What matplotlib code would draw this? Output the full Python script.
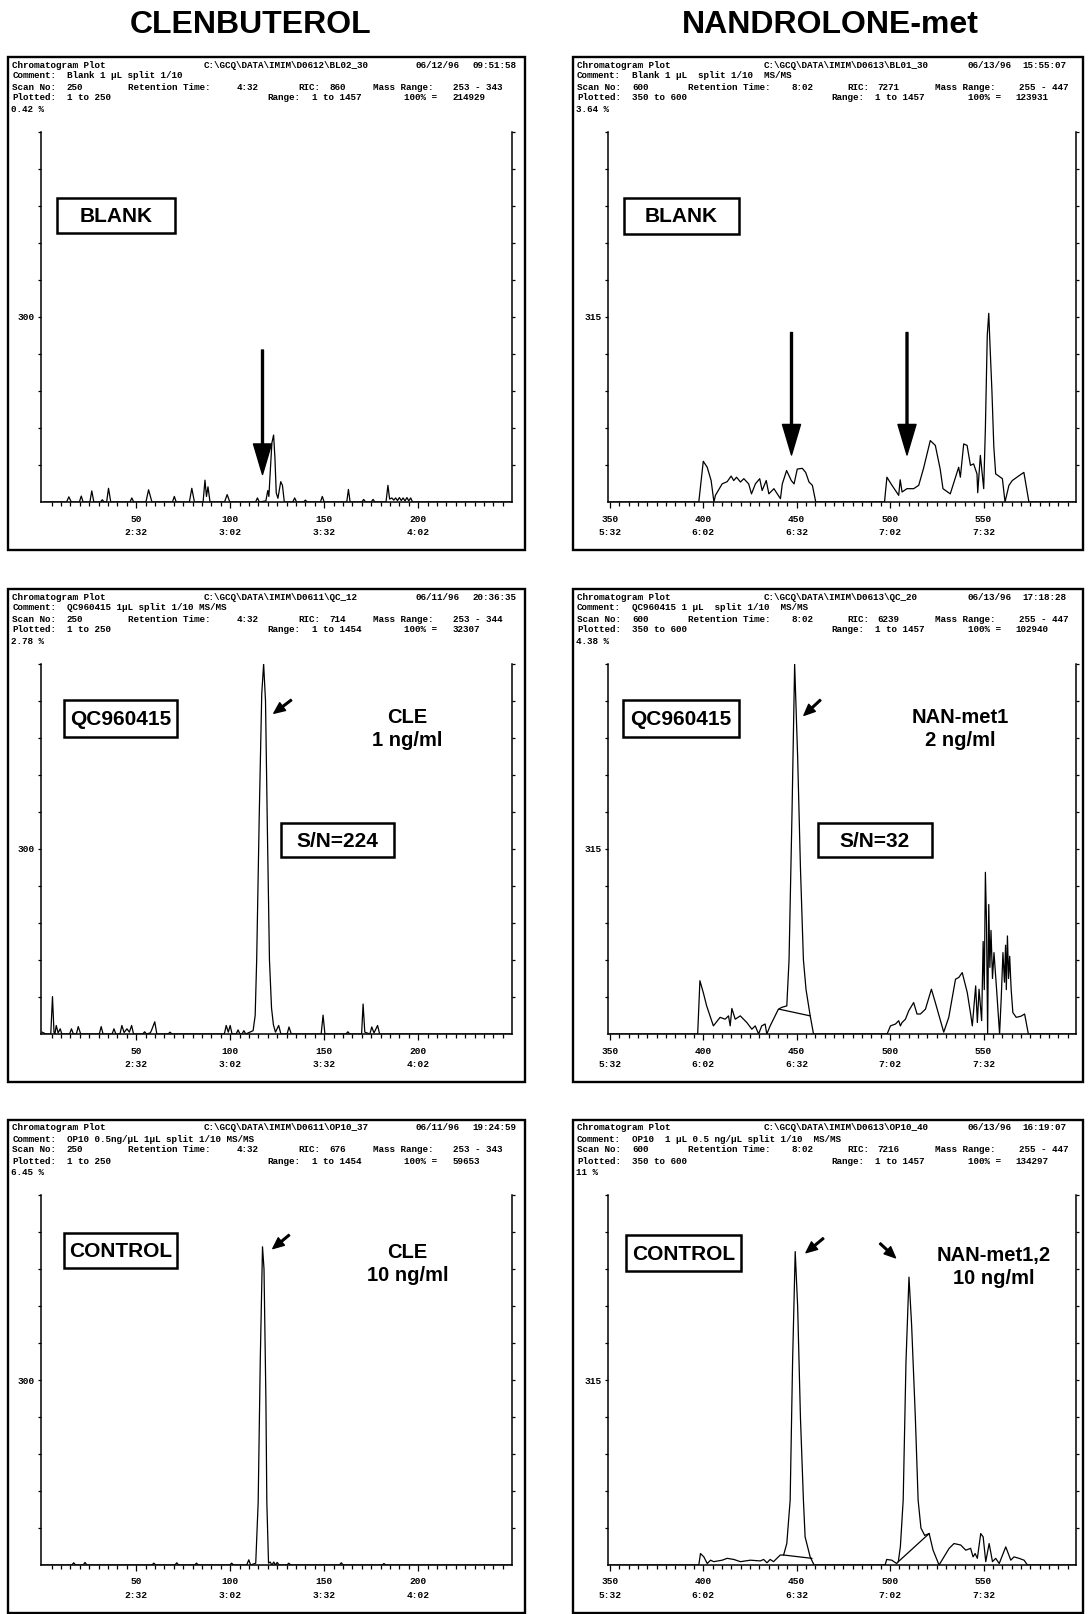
"""
Six GC-MS/MS chromatogram panels: clenbuterol (left) and nandrolone metabolite (right),
blank / QC / control rows. Traces are read off the scanned figure (intensity in % of full scale).
"""
import numpy as np
import matplotlib
matplotlib.use("Agg")
import matplotlib.pyplot as plt
from matplotlib.patches import Rectangle

W, H = 1088, 1614
MONO = ["Liberation Mono", "DejaVu Sans Mono"]
SANS = ["Liberation Sans", "DejaVu Sans"]
plt.rcParams["font.family"] = MONO
plt.rcParams["font.weight"] = "bold"

# ---- traces: (scan, % of full scale) ----
CLE_BLANK = [(1, 0), (13, 0), (14.2, 1.4), (15.5, 0), (19.8, 0), (20.8, 1.6), (21.8, 0), (25.4, 0), (26.4, 3.0),
             (27.5, 0), (31, 0), (32, 0.6), (33, 0), (34.3, 0), (35.3, 3.7), (36.5, 0), (46.7, 0), (47.7, 1.1),
             (48.7, 0), (55.2, 0), (56.6, 3.3), (58.4, 0), (69.3, 0), (70.3, 1.5), (71.3, 0), (78.3, 0),
             (79.6, 3.7), (81, 0), (85.6, 0), (86.6, 5.9), (87.4, 1.5), (88.2, 4.1), (89.3, 0), (97, 0),
             (98.4, 2.0), (99.8, 0), (113.5, 0), (114.5, 1.1), (115.5, 0), (119, 0.3), (120, 3.1), (120.6, 1.5),
             (121.3, 8), (122.2, 16), (123.1, 18.1), (123.8, 12), (124.5, 2.5), (125.4, 1.0), (126.9, 5.5),
             (127.8, 4.5), (128.8, 0), (133.3, 0), (134.3, 1.1), (135.3, 0), (139, 0), (140, 0.5), (141, 0),
             (148, 0), (149, 1.5), (150, 0), (162, 0), (162.9, 3.4), (163.8, 0), (170, 0), (171, 0.7), (172, 0),
             (175, 0), (176, 0.7), (177, 0), (182.9, 0), (183.9, 4.5), (184.8, 0.8), (186, 1.1), (187, 0.5),
             (188, 1.1), (189, 0.4), (190, 1.2), (191, 0.4), (192, 1.1), (193, 0.3), (194, 1.2), (195, 0.3),
             (196, 1.1), (197, 0), (250, 0)]
NAN_BLANK = [(350, 0), (397.6, 0), (400, 11.0), (402.1, 9.4), (404.2, 5.8), (405.7, 0), (406.5, 1.8), (410.1, 4.9),
             (412.8, 5.5), (414.9, 7.0), (416.3, 5.8), (417.8, 6.7), (419.9, 5.4), (421.7, 6.3), (424.3, 4.9),
             (425.8, 2.2), (427.9, 4.9), (430.2, 6.3), (431.5, 3.1), (433.7, 5.8), (435.1, 2.2), (437.8, 3.6),
             (441.3, 0.9), (442.3, 4.9), (444.6, 8.5), (447.1, 5.8), (448.6, 4.9), (450.3, 8.9), (453.0, 9.1),
             (454.8, 8.0), (456.6, 5.4), (458.4, 4.5), (460.2, 0), (497.0, 0), (498.3, 6.7), (500.5, 4.9),
             (504.6, 1.8), (505.4, 6.0), (506.4, 2.7), (509.0, 3.6), (512.6, 3.6), (515.3, 4.5), (517.9, 9.1),
             (521.5, 16.6), (524.2, 15.3), (526.8, 8.9), (528.3, 3.6), (532.2, 2.2), (536.7, 9.4), (537.6, 6.7),
             (539.4, 15.7), (541.2, 15.3), (543.0, 9.9), (544.7, 10.3), (546.5, 7.6), (546.9, 2.5), (548.3, 12.6),
             (550.1, 3.6), (551, 20), (552, 45), (552.8, 51), (553.5, 42), (554.5, 30), (555.5, 15), (556.5, 7.6),
             (560.1, 6.3), (561.5, 0), (563.6, 4.5), (565.4, 5.8), (569.0, 7.1), (571.6, 8.0), (574.3, 0), (600, 0)]
CLE_QC = [(0, 0.5), (2, 0), (4.6, 0), (5.5, 10.1), (6.3, 0.5), (6.8, 0), (7.5, 2.3), (8.5, 0.3), (9.6, 1.4),
          (10.5, 0), (14.6, 0), (15.6, 1.4), (16.6, 0), (18.2, 0), (19.2, 2.0), (20.5, 0), (30.4, 0), (31.4, 2.0),
          (32.4, 0), (37.2, 0), (38.2, 1.4), (39.2, 0), (41.4, 0), (42.4, 2.3), (43.6, 0.4), (45.1, 1.4),
          (46.4, 0.5), (47.6, 2.3), (48.6, 0), (53.5, 0), (54.5, 0.6), (55.5, 0), (57.5, 0.3), (58.1, 0.9),
          (59.9, 3.3), (61, 0), (67, 0), (68, 0.5), (69, 0), (96.9, 0), (97.9, 2.3), (99, 0.5), (100, 2.3),
          (101, 0), (103.2, 0), (104.2, 1.1), (105.2, 0), (106.3, 0), (107.3, 0.9), (108.3, 0), (112.2, 0.9),
          (113.3, 5), (114.1, 20), (115.5, 60), (116.8, 92), (117.8, 100), (118.8, 90), (119.8, 55), (120.9, 20),
          (122, 7), (123, 2.5), (124.1, 0.5), (125.8, 2.3), (127, 0), (130.3, 0), (131.3, 1.9), (132.5, 0),
          (148.4, 0), (149.4, 5.1), (150.4, 0), (161.6, 0), (162.6, 0.6), (163.6, 0), (169.9, 0), (170.7, 8.1),
          (171.6, 0.5), (174.3, 0), (175.3, 1.9), (176.5, 0.3), (178.4, 2.3), (179.5, 0), (250, 0)]
NAN_QC = [(350, 0), (397.0, 0), (398.2, 14.4), (400.0, 11.2), (401.8, 7.6), (405.4, 2.2), (409.0, 4.5),
          (411.7, 4.0), (413.5, 4.9), (414.4, 2.2), (415.3, 6.9), (417.1, 4.0), (419.8, 4.9), (423.3, 3.1),
          (426.0, 1.3), (427.8, 2.2), (429.6, 0), (431.3, 2.2), (433.1, 2.7), (434.0, 0), (435.8, 2.2),
          (440.2, 6.7), (442.0, 7.2), (444.7, 7.6), (445.9, 20), (447.5, 60), (448.9, 100), (450.5, 75),
          (452, 45), (453.6, 20), (455, 12), (457.2, 5), (459, 0), (498.4, 0), (500.2, 2.2), (502.9, 2.7),
          (504.6, 3.6), (505.5, 2.2), (506.4, 3.1), (508.2, 4.0), (510.0, 6.3), (512.6, 8.5), (514.4, 5.4),
          (516.2, 5.4), (518.9, 6.7), (522.1, 12.1), (524.2, 8.5), (528.7, 0.5), (531.4, 4.5), (535.0, 14.8),
          (536.8, 15.3), (538.6, 16.6), (541.3, 11.2), (543.1, 5.4), (544.0, 2.2), (545.8, 13.0), (546.7, 3.1),
          (547.6, 12.1), (549.0, 3.6), (549.8, 25), (550.4, 12), (551.0, 43.7), (551.6, 30), (552.2, 0),
          (552.8, 35), (553.4, 18), (554.0, 28), (554.8, 15), (555.6, 22), (557.0, 12), (558.6, 0), (559.5, 10),
          (560.4, 22), (561.2, 14), (561.8, 24), (562.2, 12), (562.8, 26.5), (563.4, 15), (564.0, 21),
          (564.8, 12), (565.7, 5.8), (567.5, 4.5), (570, 4.8), (572, 5.4), (574, 0), (600, 0)]
CLE_CONTROL = [(0, 0), (15.8, 0), (16.8, 0.6), (17.8, 0), (21.8, 0), (22.8, 0.7), (23.8, 0), (58.4, 0), (59.4, 0.5),
               (60.4, 0), (70.6, 0), (71.6, 0.6), (72.6, 0), (81.1, 0), (82.1, 0.5), (83.1, 0), (99.8, 0),
               (100.8, 0.5), (101.8, 0), (108.8, 0), (109.9, 1.4), (110.9, 0), (113.6, 0.5), (114.9, 17),
               (116, 55), (117.2, 86), (118, 80), (119, 45), (119.5, 17), (120.4, 0.5), (121.3, 0.8), (122.2, 0),
               (123.2, 0.8), (124.1, 0), (125, 0.7), (126, 0), (130.2, 0), (131.2, 0.5), (132.2, 0), (158.1, 0),
               (159.1, 0.6), (160.1, 0), (180.8, 0), (181.8, 0.4), (182.8, 0), (250, 0)]
NAN_CONTROL = [(350, 0), (397.6, 0), (398.5, 3.1), (400.3, 2.2), (402.1, 0.4), (403.9, 1.3), (405.6, 0.9),
               (410.1, 1.3), (412.8, 1.8), (416.3, 1.5), (419.9, 0.9), (425.2, 1.3), (430.5, 1.1), (432.3, 1.5),
               (434.1, 0.6), (435.8, 1.5), (437.6, 0.9), (441.2, 2.7), (443.0, 2.7), (444.7, 5.8), (446.5, 17.5),
               (447.8, 55), (449.2, 84.7), (450.5, 70), (452, 40), (453.6, 17.5), (454.5, 7.6), (457.2, 2.2),
               (459.3, 0), (497.3, 0), (498.2, 1.5), (500.9, 1.3), (503.5, 0.4), (504.4, 0.9), (505.5, 5),
               (507, 17.5), (508.5, 55), (510.1, 77.8), (511.5, 65), (513.5, 40), (515, 17.5), (516.5, 10),
               (518.5, 8), (520.9, 8.5), (523, 4), (526.2, 0), (531.6, 4.5), (534.2, 5.8), (537.8, 5.4),
               (540.5, 4.0), (543.1, 4.5), (544.4, 2.2), (545.5, 3.1), (546.7, 1.8), (548.5, 8.5), (549.8, 7.6),
               (551.2, 0.9), (553.0, 5.8), (554.8, 0.9), (556.5, 1.8), (558.4, 0.4), (561.9, 4.9), (564.6, 1.3),
               (566.3, 2.2), (569.0, 1.8), (571.7, 1.3), (573.5, 0), (600, 0)]
# integration baselines drawn under the peaks
NAN_QC_BASE = [[(440.7, 6.7), (457.2, 4.9)]]
NAN_CONTROL_BASE = [[(443.0, 2.7), (458.1, 1.8)], [(504.4, 0.9), (520.9, 8.5)]]

TRACES = [CLE_BLANK, NAN_BLANK, CLE_QC, NAN_QC, CLE_CONTROL, NAN_CONTROL]
BASES = [[], [], [], NAN_QC_BASE, [], NAN_CONTROL_BASE]

# ---- header block of each panel (row-major: blank L/R, QC L/R, control L/R) ----
PATHS = ["C:\\GCQ\\DATA\\IMIM\\D0612\\BL02_30", "C:\\GCQ\\DATA\\IMIM\\D0613\\BL01_30",
         "C:\\GCQ\\DATA\\IMIM\\D0611\\QC_12", "C:\\GCQ\\DATA\\IMIM\\D0613\\QC_20",
         "C:\\GCQ\\DATA\\IMIM\\D0611\\OP10_37", "C:\\GCQ\\DATA\\IMIM\\D0613\\OP10_40"]
DATES = ["06/12/96", "06/13/96", "06/11/96", "06/13/96", "06/11/96", "06/13/96"]
TIMES = ["09:51:58", "15:55:07", "20:36:35", "17:18:28", "19:24:59", "16:19:07"]
COMMENTS = ["Blank 1 µL split 1/10", "Blank 1 µL  split 1/10  MS/MS", "QC960415 1µL split 1/10 MS/MS",
            "QC960415 1 µL  split 1/10  MS/MS", "OP10 0.5ng/µL 1µL split 1/10 MS/MS",
            "OP10  1 µL 0.5 ng/µL split 1/10  MS/MS"]
SCAN_NO = ["250", "600", "250", "600", "250", "600"]
RET_TIME = ["4:32", "8:02", "4:32", "8:02", "4:32", "8:02"]
RIC = ["860", "7271", "714", "6239", "676", "7216"]
MASS = ["253 - 343", "255 - 447", "253 - 344", "255 - 447", "253 - 343", "255 - 447"]
PLOTTED = ["1 to 250", "350 to 600"] * 3
RANGES = ["1 to 1457", "1 to 1457", "1 to 1454", "1 to 1457", "1 to 1454", "1 to 1457"]
FULL = ["214929", "123931", "32307", "102940", "59653", "134297"]
PCT = ["0.42 %", "3.64 %", "2.78 %", "4.38 %", "6.45 %", "11 %"]

XTICKS = [[50, 100, 150, 200], [350, 400, 450, 500, 550]]
XTIMES = [["2:32", "3:02", "3:32", "4:02"], ["5:32", "6:02", "6:32", "7:02", "7:32"]]
XLIMS = [(-0.5, 250), (349, 599.5)]
XMINOR = [np.arange(5, 250, 5), np.arange(355, 600, 5)]
YLABEL = ["300", "315"]
TITLES = ["CLENBUTEROL", "NANDROLONE-met"]

# ---- layout (pixels of the 1088x1614 figure) ----
ROW_TOP = [57, 589, 1120]
COL_LEFT = [8.2, 573]
COL_W = [517, 510]
BOX_H = 493
PLOT_L = [33, 35]
PLOT_R = [504, 503]
PLOT_T, PLOT_B = 75, 445

fig = plt.figure(figsize=(W / 100, H / 100), dpi=100, facecolor="white")

for i, trace in enumerate(TRACES):
    r, c = divmod(i, 2)
    top, left = ROW_TOP[r], COL_LEFT[c]
    x0, x1 = left + PLOT_L[c], left + PLOT_R[c]
    y0, y1 = top + PLOT_T, top + PLOT_B
    ax = fig.add_axes([x0 / W, 1 - y1 / H, (x1 - x0) / W, (y1 - y0) / H])
    arr = np.array(trace)
    ax.plot(arr[:, 0], arr[:, 1], color="black", lw=0.9)
    for seg in BASES[i]:
        s = np.array(seg)
        ax.plot(s[:, 0], s[:, 1], color="black", lw=0.9)
    ax.set_xlim(*XLIMS[c])
    ax.set_ylim(0, 100)
    ax.spines["top"].set_visible(False)
    for s in ("left", "bottom", "right"):
        ax.spines[s].set_linewidth(1.1)
    ax.set_xticks(XTICKS[c])
    ax.set_xticklabels(["%d\n%s" % (v, t) for v, t in zip(XTICKS[c], XTIMES[c])], fontsize=6.8,
                       fontweight="bold", linespacing=1.7)
    ax.set_xticks(XMINOR[c], minor=True)
    ax.set_yticks([50])
    ax.set_yticklabels([YLABEL[c]], fontsize=6.8, fontweight="bold")
    ax.set_yticks(np.arange(10, 101, 10), minor=True)
    ax.tick_params(axis="both", which="both", direction="out", width=0.9)
    ax.tick_params(axis="x", which="major", length=4, pad=5)
    ax.tick_params(axis="x", which="minor", length=3)
    ax.tick_params(axis="y", which="both", length=2.5, right=True, pad=2)

# overlay in pixel coordinates for frames, headers, labels and arrows
ov = fig.add_axes([0, 0, 1, 1], zorder=10)
ov.set_xlim(0, W)
ov.set_ylim(H, 0)
ov.axis("off")

TITLE_X = [251, 830]
for c, t in enumerate(TITLES):
    ov.text(TITLE_X[c], 25, t, ha="center", va="center", fontsize=23, fontweight="bold", family=SANS)

# header column positions, relative to the panel's left edge (left panels, right panels)
PATH_X, DATE_X, TIME_X = [195.6, 190.7], [407.6, 394.5], [464.3, 449.1]
VAL_X, RT_X, RTV_X = [58.7, 59], [119.4, 114.6], [228.5, 218.5]
RIC_X, RICV_X, MASS_X, MASSV_X = [290.3, 274.1], [321.2, 304], [364.4, 361.6], [444.7, 446]
RANGE_X, RANGEV_X, FULL_LBL_X, FULL_X = [259, 258], [304, 302], [396.3, 394.5], [444.7, 442.9]
for i in range(6):
    r, c = divmod(i, 2)
    top, left = ROW_TOP[r], COL_LEFT[c]
    ov.add_patch(Rectangle((left, top), COL_W[c], BOX_H, fill=False, lw=1.7, ec="black"))
    rows = [
        [("Chromatogram Plot", 4), (PATHS[i], PATH_X[c]), (DATES[i], DATE_X[c]), (TIMES[i], TIME_X[c])],
        [("Comment:", 4), (COMMENTS[i], VAL_X[c])],
        [("Scan No:", 4), (SCAN_NO[i], VAL_X[c]), ("Retention Time:", RT_X[c]), (RET_TIME[i], RTV_X[c]),
         ("RIC:", RIC_X[c]), (RIC[i], RICV_X[c]), ("Mass Range:", MASS_X[c]), (MASS[i], MASSV_X[c])],
        [("Plotted:", 4), (PLOTTED[i], VAL_X[c]), ("Range:", RANGE_X[c]), (RANGES[i], RANGEV_X[c]),
         ("100% =", FULL_LBL_X[c]), (FULL[i], FULL_X[c])],
        [(PCT[i], 3)],
    ]
    for ly, chunks in zip([8, 19, 30, 41, 52.5], rows):
        for txt, dx in chunks:
            ov.text(left + dx, top + ly, txt, ha="left", va="center", fontsize=6.7, fontweight="bold")

LABEL_BOXES = [("BLANK", 56.6, 197.6, 175, 232.6), ("BLANK", 623.8, 197.6, 739, 233.7),
               ("QC960415", 63.8, 700, 177, 737), ("QC960415", 622.7, 700, 739, 737),
               ("S/N=224", 281, 823.4, 394, 857.4), ("S/N=32", 818.3, 823.4, 931.5, 857.4),
               ("CONTROL", 63.8, 1233, 177, 1268), ("CONTROL", 625.8, 1235, 741, 1271)]
for txt, bx0, by0, bx1, by1 in LABEL_BOXES:
    ov.add_patch(Rectangle((bx0, by0), bx1 - bx0, by1 - by0, fc="white", ec="black", lw=1.8))
    ov.text((bx0 + bx1) / 2, (by0 + by1) / 2 + 1, txt, ha="center", va="center", fontsize=15,
            fontweight="bold", family=SANS)

CONC = [("CLE\n1 ng/ml", 407.6, 729), ("NAN-met1\n2 ng/ml", 960, 729),
        ("CLE\n10 ng/ml", 407.6, 1264), ("NAN-met1,2\n10 ng/ml", 994, 1267)]
for txt, tx, ty in CONC:
    ov.text(tx, ty, txt, ha="center", va="center", fontsize=14.5, fontweight="bold", family=SANS,
            linespacing=1.25)

BIG_ARROWS = [(262.5, 350, 474.5), (791.5, 332.5, 455), (907, 332.5, 455)]
for ax_x, ty, hy in BIG_ARROWS:
    ov.annotate("", xy=(ax_x, hy), xytext=(ax_x, ty),
                arrowprops=dict(facecolor="black", edgecolor="black", width=1.4, headwidth=13,
                                headlength=22, shrink=0))
SMALL_ARROWS = [((291.3, 700), (273.8, 713.3)), ((820.4, 700), (803.9, 715.4)),
                ((289.2, 1235), (272.8, 1248.6)), ((823.4, 1238.3), (806, 1252.7)),
                ((880, 1243.4), (895.5, 1257.8))]
for tail, head in SMALL_ARROWS:
    ov.annotate("", xy=head, xytext=tail,
                arrowprops=dict(facecolor="black", edgecolor="black", width=1.2, headwidth=7,
                                headlength=8, shrink=0))

fig.savefig("out.png", dpi=100, facecolor="white")
